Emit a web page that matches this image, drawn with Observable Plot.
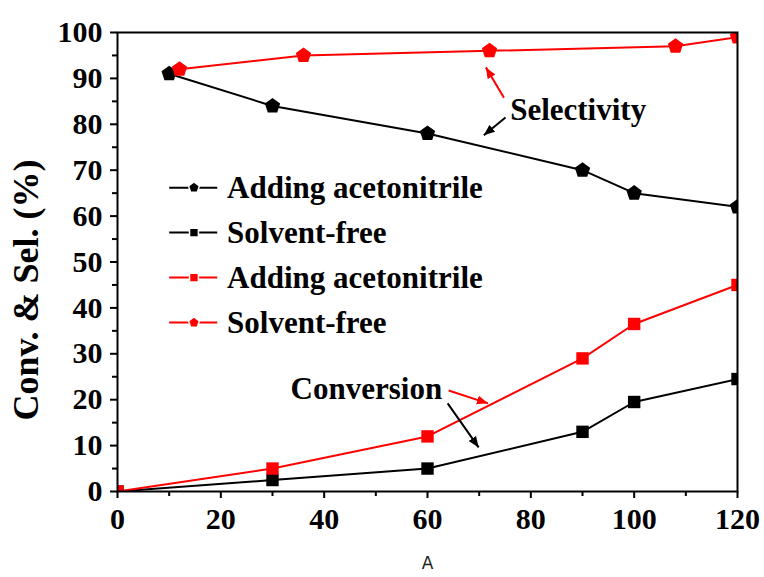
<!DOCTYPE html>
<html>
<head>
<meta charset="utf-8">
<script src="https://cdn.jsdelivr.net/npm/d3@7"></script>
<script src="https://cdn.jsdelivr.net/npm/@observablehq/plot@0.6"></script>
<style>
  html, body { margin: 0; padding: 0; background: #fff; }
</style>
</head>
<body>
<div id="chart"></div>
<script>
// ---- data ----
const selAcetoX = [10, 30, 60, 90, 100, 120];
const selAcetoY = [91, 84, 78, 70, 65, 62];
const selFreeX = [12, 36, 72, 108, 120];
const selFreeY = [92, 95, 96, 97, 99];
const convFreeX = [0, 30, 60, 90, 100, 120];
const convFreeY = [0, 2.5, 5, 13, 19.5, 24.5];
const convAcetoX = [0, 30, 60, 90, 100, 120];
const convAcetoY = [0, 5, 12, 29, 36.5, 45];

const legendLabels = ["Adding acetonitrile", "Solvent-free", "Adding acetonitrile", "Solvent-free"];
const legendColors = ["black", "black", "red", "red"];
const legendShapes = ["pentagon", "square", "square", "pentagon"];

const xTicks = [0, 20, 40, 60, 80, 100, 120];
const xMinor = [10, 30, 50, 70, 90, 110];
const yTicks = [0, 10, 20, 30, 40, 50, 60, 70, 80, 90, 100];
const yMinor = [5, 15, 25, 35, 45, 55, 65, 75, 85, 95];

const annoText = [
  {label: "Selectivity", x: 76, y: 83},
  {label: "Conversion", x: 33.5, y: 22.4}
];
const arrows = [
  {x1: 74.8, y1: 85.8, x2: 71.3, y2: 92.4, c: "red"},
  {x1: 75.1, y1: 81.5, x2: 70.9, y2: 77.6, c: "black"},
  {x1: 64.1, y1: 22.0, x2: 71.7, y2: 19.2, c: "red"},
  {x1: 63.9, y1: 19.2, x2: 69.9, y2: 9.6, c: "black"}
];

// ---- build ----
const pentagon = {
  draw(ctx, size) {
    const R = Math.sqrt(size / 2.378);
    for (let i = 0; i < 5; i++) {
      const a = -Math.PI / 2 + i * 2 * Math.PI / 5;
      const px = R * Math.cos(a), py = R * Math.sin(a);
      if (i) ctx.lineTo(px, py); else ctx.moveTo(px, py);
    }
    ctx.closePath();
  }
};
const sym = s => s === "pentagon" ? pentagon : "square";

const zip = (xs, ys) => xs.map((x, i) => ({x, y: ys[i]}));
const series = [
  {data: zip(selAcetoX, selAcetoY), color: "black", shape: "pentagon"},
  {data: zip(convFreeX, convFreeY), color: "black", shape: "square"},
  {data: zip(convAcetoX, convAcetoY), color: "red", shape: "square"},
  {data: zip(selFreeX, selFreeY), color: "red", shape: "pentagon"}
];

const legend = legendLabels.map((label, i) => ({
  label, color: legendColors[i], shape: legendShapes[i],
  y: 66.2 - i * 9.8
}));

const serif = "'Liberation Serif', 'Times New Roman', serif";

const filledHead = (color) => {
  const m = d3.create("svg:marker")
    .attr("viewBox", "-11 -5 11 10")
    .attr("markerWidth", 11)
    .attr("markerHeight", 10)
    .attr("markerUnits", "userSpaceOnUse")
    .attr("orient", "auto")
    .attr("fill", color)
    .attr("stroke", "none");
  m.append("path").attr("d", "M-11,-4.5L0,0L-11,4.5Z");
  return m.node();
};

const marks = [];
for (const s of series) {
  marks.push(Plot.line(s.data, {x: "x", y: "y", stroke: s.color, strokeWidth: 2, clip: true}));
}
for (const s of series) {
  marks.push(Plot.dot(s.data, {x: "x", y: "y", fill: s.color, stroke: "none", r: 7, symbol: sym(s.shape), clip: true}));
}
// legend
marks.push(Plot.ruleY(legend, {y: "y", x1: 10.1, x2: 19.4, stroke: "color", strokeWidth: 2}));
for (const item of legend) {
  marks.push(Plot.dot([item], {x: 14.8, y: "y", fill: item.color, stroke: "white", strokeWidth: 1.5, r: 5, symbol: sym(item.shape)}));
}
marks.push(Plot.text(legend, {x: 21.2, y: "y", text: "label", textAnchor: "start", fontSize: 31, fontWeight: "bold", fontFamily: serif, fill: "black"}));
// annotations
marks.push(Plot.text(annoText, {x: "x", y: "y", text: "label", textAnchor: "start", fontSize: 31, fontWeight: "bold", fontFamily: serif, fill: "black"}));
for (const a of arrows) {
  marks.push(Plot.link([a], {x1: "x1", y1: "y1", x2: "x2", y2: "y2", stroke: a.c, strokeWidth: 2, markerEnd: filledHead}));
}
// axes
marks.push(Plot.axisX(xTicks, {tickSize: 7, tickPadding: 9, label: null, strokeWidth: 2}));
marks.push(Plot.axisX(xMinor, {tickSize: 5, tickFormat: () => "", label: null, strokeWidth: 2}));
marks.push(Plot.axisY(yTicks, {tickSize: 7, tickPadding: 8, label: null, strokeWidth: 2}));
marks.push(Plot.axisY(yMinor, {tickSize: 5, tickFormat: () => "", label: null, strokeWidth: 2}));
marks.push(Plot.frame({stroke: "black", strokeWidth: 2}));
// axis titles
marks.push(Plot.text(["Conv. & Sel. (%)"], {frameAnchor: "left", textAnchor: "middle", dx: -91, dy: 28, rotate: -90, fontSize: 36, fontWeight: "bold", fontFamily: serif, fill: "black"}));
marks.push(Plot.text(["A"], {frameAnchor: "bottom", dy: 77, fontSize: 17, fontWeight: "normal", fontFamily: "'DejaVu Sans', sans-serif", fill: "#222"}));

const chart = Plot.plot({
  width: 764,
  height: 577,
  marginLeft: 117,
  marginRight: 27,
  marginTop: 32,
  marginBottom: 86,
  x: {domain: [0, 120]},
  y: {domain: [0, 100]},
  style: {fontFamily: serif, fontWeight: "bold", fontSize: "30px", color: "black", background: "white", overflow: "visible"},
  marks
});
document.getElementById("chart").appendChild(chart);
</script>
</body>
</html>
